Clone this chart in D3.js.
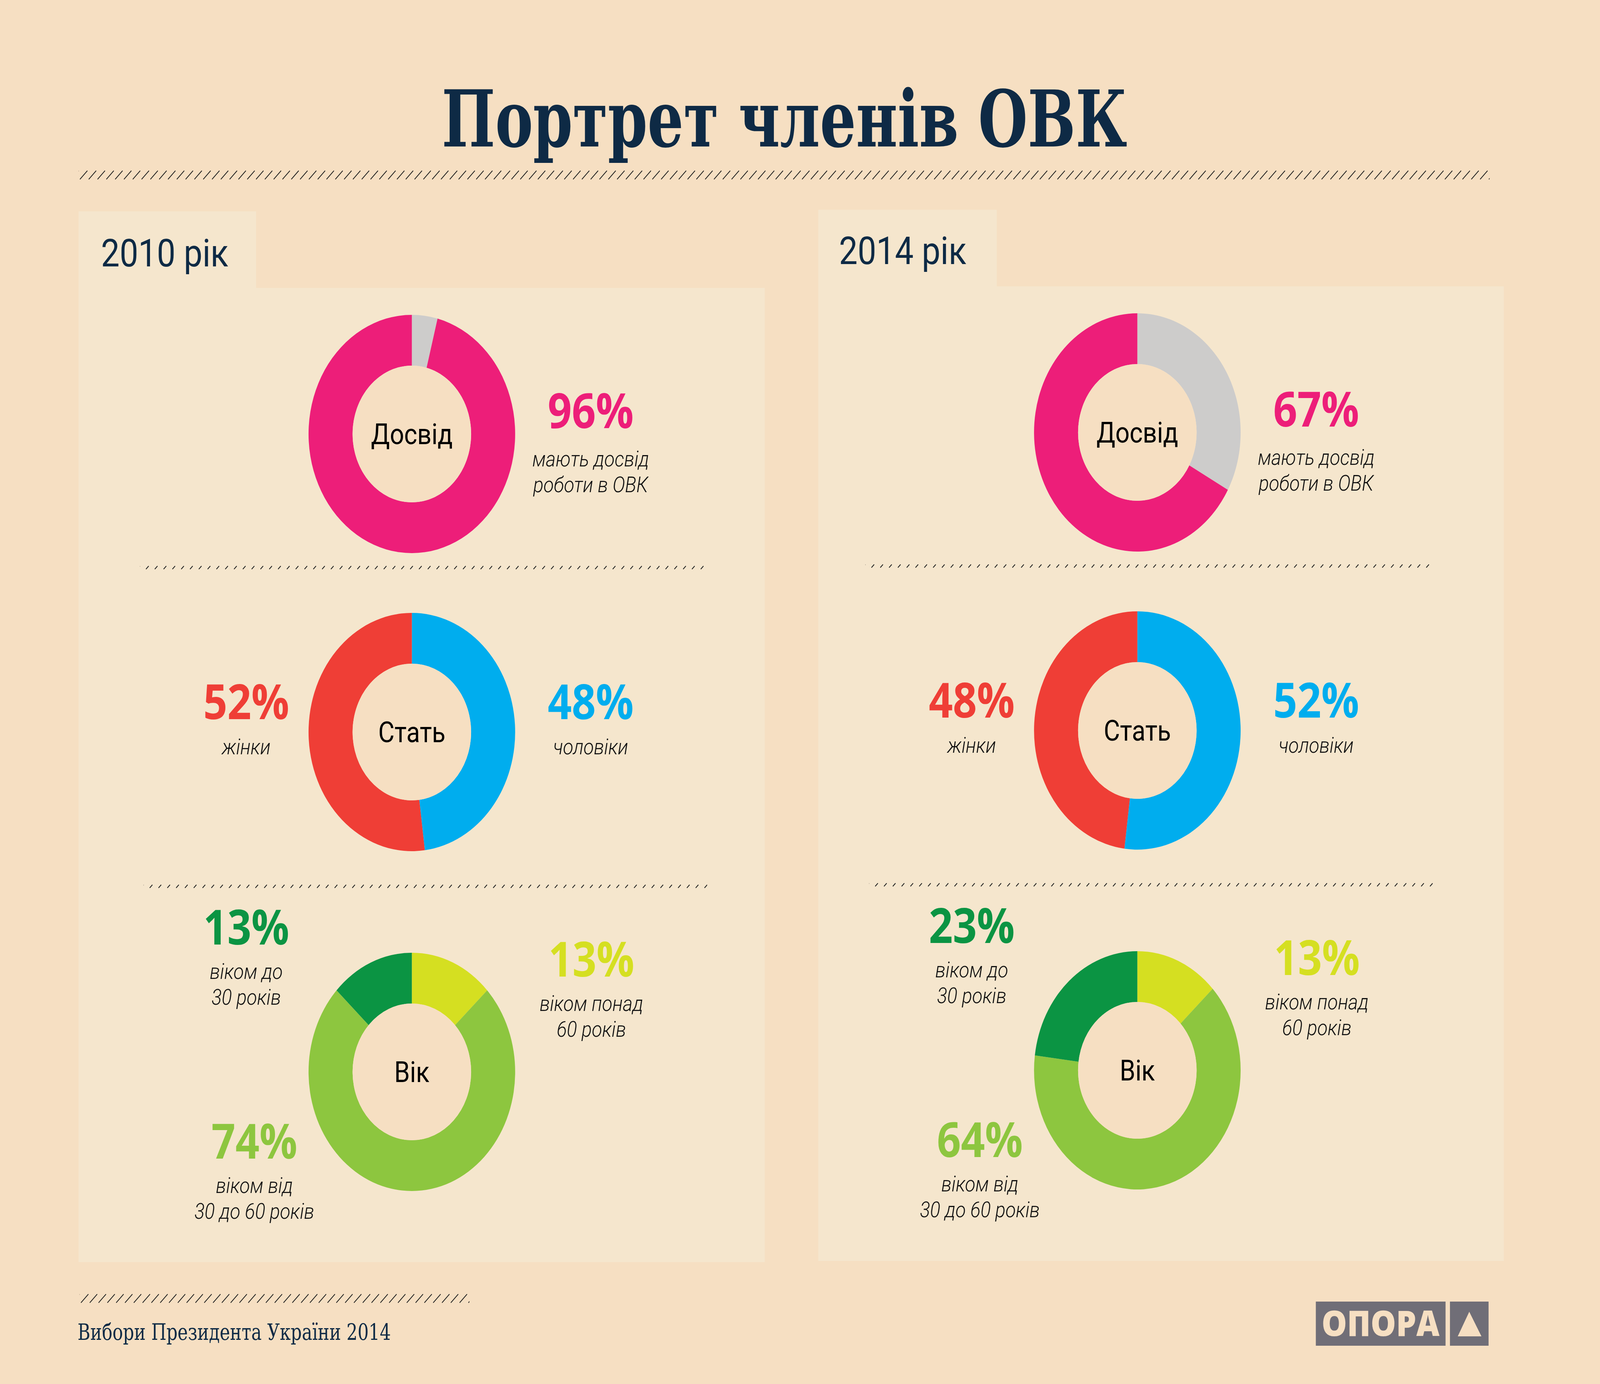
<!DOCTYPE html>
<html>
<head>
<meta charset="utf-8">
<script src="https://cdn.jsdelivr.net/npm/d3@7"></script>
<style>
  html, body { margin: 0; padding: 0; background: #f6dfc2; overflow: hidden; }
  svg { display: block; width: 100vw; height: 100vh; }
</style>
</head>
<body>
<svg id="chart"></svg>
<script>
// --- data ---
var years = ['2010 рік', '2014 рік'];
var experienceNo = [4, 33];
var experienceYes = [96, 67];
var men = [48, 52];
var women = [52, 48];
var ageOver60 = [13, 13];
var age30to60 = [74, 64];
var ageUnder30 = [13, 23];

var title = 'Портрет членів ОВК';
var footer = 'Вибори Президента України 2014';
var centerLabels = ['Досвід', 'Стать', 'Вік'];

var W = 4724, H = 3543;
var BG = '#f6dfc2', PANEL = '#f5e6cd', NAVY = '#0e2a45';
var COLORS = {
    grey: '#cdcccb', pink: '#ed1e79',
    blue: '#00adee', red: '#ef3e36',
    yellow: '#d5df21', light: '#8dc63f', dark: '#0b9443'
};

// the window may be narrower than the design, so the design box is fitted to it
var svg = d3.select('#chart')
    .attr('viewBox', '0 0 ' + W + ' ' + H)
    .attr('preserveAspectRatio', 'none');
svg.append('rect').attr('width', W).attr('height', H).attr('fill', BG);

// column geometry
var cols = [
    { cx: 1216, dy: 0, tab: [232, 541, 756, 737], panel: [232, 737, 2258, 3231], yearX: 298, yearY: 682 },
    { cx: 3358, dy: -4, tab: [2416, 537, 2943, 733], panel: [2416, 733, 4440, 3228], yearX: 2477, yearY: 676 }
];
var rowY = [1111, 1874, 2744];
var R = 305, r = 175;

var arc = d3.arc().innerRadius(r).outerRadius(R);
var pie = d3.pie().sort(null).value(function(d) { return d.value; });

// hatch line of slashes between x0..x1
function hatch(g, x0, x1, yTop, h, dx, step, width, id) {
    var clip = svg.append('clipPath').attr('id', id);
    clip.append('rect').attr('x', x0).attr('y', yTop - 2).attr('width', x1 - x0).attr('height', h + 4);
    var grp = g.append('g').attr('clip-path', 'url(#' + id + ')');
    grp.selectAll('line').data(d3.range(x0 - dx, x1 + step, step)).enter()
        .append('line')
        .attr('x1', function(x) { return x; })
        .attr('y1', yTop + h)
        .attr('x2', function(x) { return x + dx; })
        .attr('y2', yTop)
        .attr('stroke', '#1e1e1e')
        .attr('stroke-width', width);
}

// title
svg.append('text')
    .attr('x', 1304).attr('y', 375)
    .attr('textLength', 2024).attr('lengthAdjust', 'spacingAndGlyphs')
    .attr('font-family', '"DejaVu Serif Condensed", "DejaVu Serif", serif')
    .attr('font-weight', 'bold').attr('font-size', 200)
    .attr('fill', NAVY).text(title);
hatch(svg, 232, 4398, 437, 22, 22, 26, 2.2, 'hTitle');

// big percent with its italic caption lines under it
function pctLabel(g, x, y, value, color, lines, gap) {
    g.append('text')
        .attr('x', x).attr('y', y - 11)
        .attr('text-anchor', 'middle')
        .attr('font-family', '"Open Sans", "Noto Sans", sans-serif')
        .attr('font-weight', 700).attr('font-size', 124)
        .attr('fill', color)
        .text(value + '%');
    lines.forEach(function(s, i) {
        g.append('text')
            .attr('x', x).attr('y', y + gap + 11 + i * 66)
            .attr('text-anchor', 'middle')
            .attr('font-family', 'Roboto, "Open Sans", sans-serif')
            .attr('font-style', 'italic').attr('font-weight', 300)
            .attr('font-size', 56)
            .attr('fill', '#111')
            .text(s);
    });
}

cols.forEach(function(c, i) {
    var g = svg.append('g');
    g.append('rect').attr('x', c.tab[0]).attr('y', c.tab[1])
        .attr('width', c.tab[2] - c.tab[0]).attr('height', c.tab[3] - c.tab[1]).attr('fill', PANEL);
    g.append('rect').attr('x', c.panel[0]).attr('y', c.panel[1])
        .attr('width', c.panel[2] - c.panel[0]).attr('height', c.panel[3] - c.panel[1]).attr('fill', PANEL);

    g.append('text').attr('x', c.yearX).attr('y', c.yearY)
        .attr('font-family', 'Roboto, "Open Sans", sans-serif')
        .attr('font-size', 98).attr('fill', NAVY)
        .text(years[i]);

    var sets = [
        [{ value: experienceNo[i], color: COLORS.grey }, { value: experienceYes[i], color: COLORS.pink }],
        [{ value: men[i], color: COLORS.blue }, { value: women[i], color: COLORS.red }],
        [{ value: ageOver60[i], color: COLORS.yellow }, { value: age30to60[i], color: COLORS.light },
         { value: ageUnder30[i], color: COLORS.dark }]
    ];

    sets.forEach(function(set, k) {
        var cy = rowY[k] + c.dy;
        var dg = g.append('g').attr('transform', 'translate(' + c.cx + ',' + cy + ')');
        dg.selectAll('path').data(pie(set)).enter()
            .append('path')
            .attr('d', arc)
            .attr('fill', function(d) { return d.data.color; });
        dg.append('circle').attr('r', r).attr('fill', BG);
        dg.append('text')
            .attr('y', 26)
            .attr('text-anchor', 'middle')
            .attr('font-family', 'Roboto, "Open Sans", sans-serif')
            .attr('font-size', 74).attr('fill', '#000')
            .text(centerLabels[k]);
    });

    var cx = c.cx, y0 = rowY[0] + c.dy, y1 = rowY[1] + c.dy, y2 = rowY[2] + c.dy;
    pctLabel(g, cx + 528, y0 - 4, experienceYes[i], COLORS.pink, ['мають досвід', 'роботи в ОВК'], 76);
    pctLabel(g, cx - 489, y1 - 22, women[i], COLORS.red, ['жінки'], 68);
    pctLabel(g, cx + 528, y1 - 22, men[i], COLORS.blue, ['чоловіки'], 68);
    pctLabel(g, cx - 489, y2 - 315, ageUnder30[i], COLORS.dark, ['віком до', '30 років'], 66);
    pctLabel(g, cx + 530, y2 - 233, ageOver60[i], COLORS.yellow, ['віком понад', '60 років'], 66);
    pctLabel(g, cx - 465, y2 + 233, age30to60[i], COLORS.light, ['віком від', '30 до 60 років'], 66);

    // small dotted separators
    hatch(g, cx - 803, cx + 862, 1449 + c.dy, 8, 8, 26, 2.4, 'hSepA' + i);
    hatch(g, cx - 792, cx + 872, 2265 + c.dy, 8, 8, 26, 2.4, 'hSepB' + i);
});

// footer
hatch(svg, 235, 1386, 3313, 22, 22, 26, 2.2, 'hFoot');
svg.append('text')
    .attr('x', 229).attr('y', 3430)
    .attr('textLength', 925).attr('lengthAdjust', 'spacingAndGlyphs')
    .attr('font-family', '"DejaVu Serif Condensed", "DejaVu Serif", serif')
    .attr('font-size', 57).attr('fill', NAVY)
    .text(footer);

// logo
var logo = svg.append('g');
logo.append('rect').attr('x', 3885).attr('y', 3332).attr('width', 383).attr('height', 113).attr('fill', '#706e77');
logo.append('rect').attr('x', 4281).attr('y', 3332).attr('width', 114).attr('height', 113).attr('fill', '#706e77');
logo.append('text')
    .attr('x', 3902).attr('y', 3420)
    .attr('textLength', 348).attr('lengthAdjust', 'spacingAndGlyphs')
    .attr('font-family', '"Open Sans", "DejaVu Sans", sans-serif')
    .attr('font-weight', 800).attr('font-size', 90)
    .attr('fill', BG).text('ОПОРА');
logo.append('path').attr('d', 'M4338,3358 L4374,3421 L4304,3421 Z').attr('fill', BG);
</script>
</body>
</html>
